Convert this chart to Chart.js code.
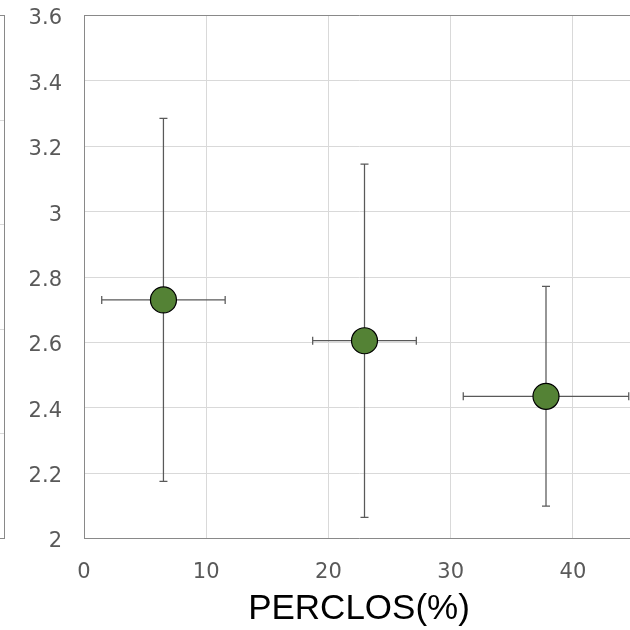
<!DOCTYPE html>
<html>
<head>
<meta charset="utf-8">
<script src="https://cdn.jsdelivr.net/npm/chart.js@4/dist/chart.umd.min.js"></script>
<style>
  html, body { margin: 0; padding: 0; background: #ffffff; overflow: hidden; width: 630px; height: 630px; }
  #wrap { position: relative; width: 630px; height: 630px; overflow: hidden; }
  #side { position: absolute; left: -290px; top: 0; }
  #main { position: absolute; left: 0; top: 0; }
</style>
</head>
<body>
<div id="wrap">
  <canvas id="side" width="300" height="630"></canvas>
  <canvas id="main" width="650" height="630"></canvas>
</div>
<script>
// ---- data ----
const perclos     = [6.5, 22.95, 37.8];     // x: PERCLOS (%)
const score       = [2.73, 2.605, 2.435];   // y values
const perclosErr  = [5.05, 4.24, 6.77];     // horizontal error (±)
const scoreErr    = [0.555, 0.54, 0.336];   // vertical error (±)
const xTickValues = [0, 10, 20, 30, 40];
const yTickValues = [2, 2.2, 2.4, 2.6, 2.8, 3, 3.2, 3.4, 3.6];
const xTitle      = 'PERCLOS(%)';
// neighbouring (cut-off) panel on the left: only its gridlines show
const sideTickValues = [0, 1, 2, 3, 4, 5];

const BORDER = '#898989';
const GRID = '#d9d9d9';
const TICK = '#595959';

const errorBars = {
  id: 'errorBars',
  beforeDatasetsDraw(chart) {
    const { ctx, scales: { x, y } } = chart;
    const cap = 4;
    ctx.save();
    ctx.strokeStyle = '#595959';
    ctx.lineWidth = 1.25;
    perclos.forEach((pv, i) => {
      const cx = x.getPixelForValue(pv);
      const cy = y.getPixelForValue(score[i]);
      const xl = x.getPixelForValue(pv - perclosErr[i]);
      const xr = x.getPixelForValue(pv + perclosErr[i]);
      const yb = y.getPixelForValue(score[i] - scoreErr[i]);
      const yt = y.getPixelForValue(score[i] + scoreErr[i]);
      ctx.beginPath();
      ctx.moveTo(xl, cy); ctx.lineTo(xr, cy);
      ctx.moveTo(xl, cy - cap); ctx.lineTo(xl, cy + cap);
      ctx.moveTo(xr, cy - cap); ctx.lineTo(xr, cy + cap);
      ctx.moveTo(cx, yt); ctx.lineTo(cx, yb);
      ctx.moveTo(cx - cap, yt); ctx.lineTo(cx + cap, yt);
      ctx.moveTo(cx - cap, yb); ctx.lineTo(cx + cap, yb);
      ctx.stroke();
    });
    ctx.restore();
  }
};

new Chart(document.getElementById('main'), {
  type: 'scatter',
  data: {
    datasets: [{
      data: perclos.map((v, i) => ({ x: v, y: score[i] })),
      backgroundColor: '#548235',
      borderColor: '#000000',
      borderWidth: 1.2,
      pointRadius: 13,
      pointHoverRadius: 13
    }]
  },
  options: {
    responsive: false,
    animation: false,
    events: [],
    layout: { padding: { top: 15.5, right: 16, bottom: 0, left: 0 } },
    plugins: { legend: { display: false }, tooltip: { enabled: false } },
    scales: {
      x: {
        type: 'linear',
        min: 0,
        max: 45,
        afterBuildTicks: s => { s.ticks = xTickValues.map(v => ({ value: v })); },
        afterFit: s => { s.height = 91.5; s.paddingLeft = 0; s.paddingRight = 0; },
        grid: { color: GRID, drawTicks: false, lineWidth: 1 },
        border: { color: BORDER, width: 1 },
        ticks: {
          padding: 21,
          color: TICK,
          font: { family: 'DejaVu Sans', size: 21 },
          maxRotation: 0
        },
        title: {
          display: true,
          text: xTitle,
          color: '#000000',
          font: { family: 'Liberation Sans', size: 35 },
          padding: { top: 0, bottom: 0 }
        }
      },
      y: {
        type: 'linear',
        min: 2,
        max: 3.6,
        afterBuildTicks: s => { s.ticks = yTickValues.map(v => ({ value: v })); },
        afterFit: s => { s.width = 84; s.paddingTop = 0; s.paddingBottom = 0; },
        grid: {
          drawTicks: false,
          lineWidth: 1,
          color: c => (c.tick && Math.abs(c.tick.value - 3.6) < 1e-9) ? BORDER : GRID
        },
        border: { color: BORDER, width: 1 },
        ticks: {
          padding: 22,
          labelOffset: 3.5,
          color: TICK,
          font: { family: 'DejaVu Sans', size: 21 },
          callback: v => String(+Number(v).toFixed(1))
        }
      }
    }
  },
  plugins: [errorBars]
});

// neighbouring panel (only its right edge is inside the picture)
new Chart(document.getElementById('side'), {
  type: 'scatter',
  data: { datasets: [{ data: [] }] },
  options: {
    responsive: false,
    animation: false,
    events: [],
    layout: { padding: { top: 15.5, right: 5.5, bottom: 0, left: 0 } },
    plugins: { legend: { display: false }, tooltip: { enabled: false } },
    scales: {
      x: {
        type: 'linear', min: 0, max: 1,
        afterFit: s => { s.height = 91.5; },
        grid: { display: false },
        border: { color: BORDER, width: 1 },
        ticks: { display: false }
      },
      y: {
        type: 'linear', position: 'right', min: 0, max: 5,
        afterBuildTicks: s => { s.ticks = sideTickValues.map(v => ({ value: v })); },
        afterFit: s => { s.width = 0; },
        grid: {
          drawTicks: false,
          color: c => (c.tick && c.tick.value === 5) ? BORDER : GRID
        },
        border: { color: BORDER, width: 1 },
        ticks: { display: false }
      }
    }
  }
});
</script>
</body>
</html>
